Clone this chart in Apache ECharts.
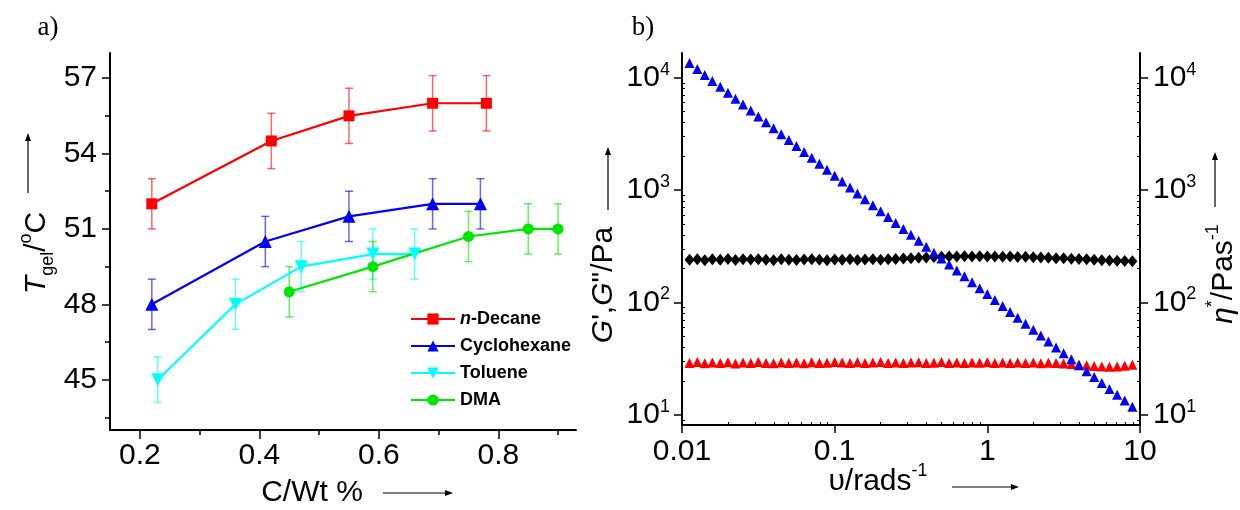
<!DOCTYPE html>
<html>
<head>
<meta charset="utf-8">
<script src="https://cdn.jsdelivr.net/npm/echarts@6/dist/echarts.min.js"></script>
<style>
  html, body { margin: 0; padding: 0; background: #fff; }
  #chart { width: 1240px; height: 510px; }
</style>
</head>
<body>
<div id="chart"></div>
<script>
// ---- a) Tgel vs concentration ----
var decaneX = [0.22, 0.42, 0.55, 0.69, 0.78];
var decaneY = [52, 54.5, 55.5, 56, 56];
var decaneErr = [1, 1.1, 1.1, 1.1, 1.1];

var cycloX = [0.22, 0.41, 0.55, 0.69, 0.77];
var cycloY = [48, 50.5, 51.5, 52, 52];
var cycloErr = [1, 1, 1, 1, 1];

var tolueneX = [0.23, 0.36, 0.47, 0.59, 0.66];
var tolueneY = [45, 48, 49.5, 50, 50];
var tolueneErr = [0.9, 1, 1, 1, 1];

var dmaX = [0.45, 0.59, 0.75, 0.85, 0.90];
var dmaY = [48.5, 49.5, 50.7, 51, 51];
var dmaErr = [1, 1, 1, 1, 1];

var tempTicks = [45, 48, 51, 54, 57];
var tempMinorTicks = [43.5, 46.5, 49.5, 52.5, 55.5];
var concTicks = [0.2, 0.4, 0.6, 0.8];
var concMinorTicks = [0.3, 0.5, 0.7, 0.9];

// ---- b) frequency sweep ----
var freq = [0.0112, 0.0126, 0.0141, 0.0158, 0.0178, 0.0200, 0.0224, 0.0251, 0.0282, 0.0316,
            0.0355, 0.0398, 0.0447, 0.0501, 0.0562, 0.0631, 0.0708, 0.0794, 0.0891,
            0.100, 0.112, 0.126, 0.141, 0.158, 0.178, 0.200, 0.224, 0.251, 0.282, 0.316,
            0.355, 0.398, 0.447, 0.501, 0.562, 0.631, 0.708, 0.794, 0.891,
            1.00, 1.12, 1.26, 1.41, 1.58, 1.78, 2.00, 2.24, 2.51, 2.82, 3.16,
            3.55, 3.98, 4.47, 5.01, 5.62, 6.31, 7.08, 7.94, 8.91];
var gPrime = [240, 243, 238, 242, 240, 244, 239, 242, 241, 243,
              240, 238, 242, 240, 239, 241, 243, 240, 238,
              241, 240, 242, 239, 241, 243, 240, 242, 244, 246, 248,
              250, 252, 254, 255, 256, 257, 258, 257, 258,
              256, 257, 255, 256, 254, 255, 253, 252, 250, 248, 247,
              245, 244, 242, 240, 238, 237, 235, 234, 233];
var gDouble = [29, 29.5, 28.8, 29.3, 29, 29.4, 28.7, 29.2, 29, 29.5,
               29, 28.8, 29.3, 29, 29.2, 28.8, 29.4, 29, 29.1,
               29.6, 29.2, 29, 29.4, 28.9, 29.2, 29.5, 29, 29.3, 28.9, 29.2,
               29.4, 29, 29.1, 29.5, 29, 29.2, 28.9, 29.3, 29.1,
               29.4, 29, 29.2, 28.9, 29.3, 29, 29.2, 28.8, 29.1, 28.9, 28.6,
               28.4, 28.1, 27.7, 27.2, 26.9, 26.8, 27.0, 27.4, 27.9];
var etaStar = [13490, 11950, 10580, 9374, 8303, 7354, 6514, 5770, 5110, 4527,
               4009, 3551, 3145, 2786, 2467, 2185, 1936, 1715, 1519,
               1345, 1191, 1055, 934.5, 827.7, 733.1, 649.4, 575.2, 509.5, 451.2, 399.7,
               354.0, 313.6, 277.7, 246.0, 217.9, 193.0, 170.9, 151.4, 134.1,
               118.8, 105.2, 93.2, 82.5, 73.1, 64.7, 57.3, 50.8, 45.0, 39.8, 35.3,
               31.3, 27.7, 24.5, 21.7, 19.2, 17.0, 15.1, 13.4, 11.8];
var freqTicks = [0.01, 0.1, 1, 10];
var freqTickLabels = ['0.01', '0.1', '1', '10'];
var modTicks = [10, 100, 1000, 10000];
var minorFactors = [2, 3, 4, 5, 6, 7, 8, 9];

var FONT = '"Liberation Sans", Arial, "DejaVu Sans", sans-serif';

var chart = echarts.init(document.getElementById('chart'));

function pairs(xs, ys) {
  return xs.map(function (x, i) { return [x, ys[i]]; });
}
function logPairs(xs, ys) {
  return xs.map(function (x, i) { return [Math.log10(x), Math.log10(ys[i])]; });
}
function logMinor(decades) {
  var out = [];
  decades.forEach(function (d) {
    minorFactors.forEach(function (k) { out.push(Math.log10(k * d)); });
  });
  return out;
}

function lineSeries(name, xs, ys, color, symbol, size) {
  return {
    name: name, type: 'line', xAxisIndex: 0, yAxisIndex: 0, z: 3,
    data: pairs(xs, ys),
    symbol: symbol, symbolSize: size,
    lineStyle: { color: color, width: 2.2 },
    itemStyle: { color: color, opacity: 1 }
  };
}

function errorSeries(xs, ys, errs, color) {
  return {
    type: 'custom', xAxisIndex: 0, yAxisIndex: 0, z: 2, silent: true,
    data: xs.map(function (x, i) { return [x, ys[i] - errs[i], ys[i] + errs[i]]; }),
    encode: { x: 0, y: [1, 2] },
    renderItem: function (params, api) {
      var lo = api.coord([api.value(0), api.value(1)]);
      var hi = api.coord([api.value(0), api.value(2)]);
      var w = 4;
      var st = { stroke: color, lineWidth: 1.5, opacity: 0.6 };
      return {
        type: 'group',
        children: [
          { type: 'line', shape: { x1: lo[0], y1: lo[1], x2: hi[0], y2: hi[1] }, style: st },
          { type: 'line', shape: { x1: lo[0] - w, y1: lo[1], x2: lo[0] + w, y2: lo[1] }, style: st },
          { type: 'line', shape: { x1: hi[0] - w, y1: hi[1], x2: hi[0] + w, y2: hi[1] }, style: st }
        ]
      };
    }
  };
}

function scatterSeries(name, ys, color, symbol, size) {
  return {
    name: name, type: 'scatter', xAxisIndex: 2, yAxisIndex: 2,
    data: logPairs(freq, ys),
    symbol: symbol, symbolSize: size,
    itemStyle: { color: color, opacity: 1 }
  };
}

function arrow(x1, y1, x2, y2) {
  var ang = Math.atan2(y2 - y1, x2 - x1);
  var L = 8, W = 3;
  var bx = x2 - L * Math.cos(ang), by = y2 - L * Math.sin(ang);
  var px = -Math.sin(ang) * W, py = Math.cos(ang) * W;
  return [
    { type: 'line', shape: { x1: x1, y1: y1, x2: bx, y2: by }, style: { stroke: '#000', lineWidth: 1.2 } },
    { type: 'polygon', shape: { points: [[x2, y2], [bx + px, by + py], [bx - px, by - py]] }, style: { fill: '#000' } }
  ];
}

var axisLineStyle = { show: true, onZero: false, lineStyle: { color: '#000', width: 2 } };
var hiddenLine = { show: false, onZero: false };
var labelStyle = { color: '#000', fontSize: 30, fontFamily: FONT };

var titleRich = {
  n: { fontSize: 30, fontFamily: FONT, color: '#000', lineHeight: 40 },
  i: { fontSize: 30, fontFamily: FONT, fontStyle: 'italic', color: '#000', lineHeight: 40 },
  sub: { fontSize: 18, fontFamily: FONT, color: '#000', lineHeight: 18, verticalAlign: 'bottom' },
  sup: { fontSize: 18, fontFamily: FONT, color: '#000', lineHeight: 18, verticalAlign: 'top' }
};

var supLabelRich = {
  b: { fontSize: 30, fontFamily: FONT, color: '#000', lineHeight: 34 },
  s: { fontSize: 18, fontFamily: FONT, color: '#000', lineHeight: 18, verticalAlign: 'top' }
};

var graphics = [
  { type: 'text', x: 48, y: 28, style: { text: 'a)', font: '27px "Liberation Serif", "Times New Roman", serif', fill: '#000', align: 'center', verticalAlign: 'middle' } },
  { type: 'text', x: 643, y: 28, style: { text: 'b)', font: '27px "Liberation Serif", "Times New Roman", serif', fill: '#000', align: 'center', verticalAlign: 'middle' } },
  { type: 'text', x: 37, y: 253, rotation: Math.PI / 2,
    style: { text: '{i|T}{sub|gel}{n|/}{sup|o}{n|C}', rich: titleRich, align: 'center', verticalAlign: 'middle' } },
  { type: 'text', x: 312, y: 493,
    style: { text: 'C/Wt %', font: '30px ' + FONT, fill: '#000', align: 'center', verticalAlign: 'middle' } },
  { type: 'text', x: 604, y: 285, rotation: Math.PI / 2,
    style: { text: '{i|G}{n|\',}{i|G}{n|"/Pa}', rich: titleRich, align: 'center', verticalAlign: 'middle' } },
  { type: 'text', x: 1224, y: 274, rotation: Math.PI / 2,
    style: { text: '{i|η}{sup|*}{n|/Pas}{sup|-1}', rich: titleRich, align: 'center', verticalAlign: 'middle' } },
  { type: 'text', x: 878, y: 482,
    style: { text: '{n|υ/rads}{sup|-1}', rich: titleRich, align: 'center', verticalAlign: 'middle' } }
]
  .concat(arrow(28, 193, 28, 133))
  .concat(arrow(383, 493, 453, 493))
  .concat(arrow(608, 210, 608, 147))
  .concat(arrow(1215, 207, 1215, 152))
  .concat(arrow(952, 487, 1019, 487));

var option = {
  backgroundColor: '#fff',
  animation: false,
  grid: [
    { left: 110, top: 53, width: 466, height: 377 },
    { left: 682, top: 53, width: 458, height: 372 }
  ],
  legend: {
    data: ['n-Decane', 'Cyclohexane', 'Toluene', 'DMA'],
    orient: 'vertical', left: 405, top: 305,
    itemWidth: 44, itemHeight: 14, itemGap: 9,
    formatter: function (name) {
      return name === 'n-Decane' ? '{it|n}{b|-Decane}' : '{b|' + name + '}';
    },
    textStyle: {
      color: '#000', fontSize: 18, fontWeight: 'bold', fontFamily: FONT, lineHeight: 14,
      rich: {
        it: { fontSize: 18, fontWeight: 'bold', fontStyle: 'italic', fontFamily: FONT, color: '#000' },
        b: { fontSize: 18, fontWeight: 'bold', fontFamily: FONT, color: '#000' }
      }
    }
  },
  xAxis: [
    { type: 'value', gridIndex: 0, position: 'bottom', min: 0.15, max: 0.93,
      axisLine: axisLineStyle, splitLine: { show: false },
      axisTick: { customValues: concTicks, length: 9, lineStyle: { color: '#000', width: 1.5 } },
      axisLabel: Object.assign({ customValues: concTicks, margin: 11 }, labelStyle) },
    { type: 'value', gridIndex: 0, position: 'bottom', offset: 0, min: 0.15, max: 0.93,
      axisLine: hiddenLine, splitLine: { show: false }, axisLabel: { show: false },
      axisTick: { customValues: concMinorTicks, length: 5, lineStyle: { color: '#000', width: 1.5 } } },
    { type: 'value', gridIndex: 1, position: 'bottom', min: -2, max: 1,
      axisLine: axisLineStyle, splitLine: { show: false },
      axisTick: { customValues: freqTicks.map(Math.log10), length: 8, lineStyle: { color: '#000', width: 1.5 } },
      axisLabel: Object.assign({
        customValues: freqTicks.map(Math.log10), margin: 12,
        formatter: function (v) {
          for (var i = 0; i < freqTicks.length; i++) {
            if (Math.abs(Math.log10(freqTicks[i]) - v) < 1e-6) return freqTickLabels[i];
          }
          return '';
        }
      }, labelStyle) },
    { type: 'value', gridIndex: 1, position: 'bottom', offset: 0, min: -2, max: 1,
      axisLine: hiddenLine, splitLine: { show: false }, axisLabel: { show: false },
      axisTick: { customValues: logMinor([0.01, 0.1, 1]), inside: true, length: 3, lineStyle: { color: '#000', width: 1 } } }
  ],
  yAxis: [
    { type: 'value', gridIndex: 0, position: 'left', min: 43, max: 58,
      axisLine: axisLineStyle, splitLine: { show: false },
      axisTick: { customValues: tempTicks, length: 8, lineStyle: { color: '#000', width: 1.5 } },
      axisLabel: Object.assign({ customValues: tempTicks, margin: 13 }, labelStyle) },
    { type: 'value', gridIndex: 0, position: 'left', offset: 0, min: 43, max: 58,
      axisLine: hiddenLine, splitLine: { show: false }, axisLabel: { show: false },
      axisTick: { customValues: tempMinorTicks, length: 5, lineStyle: { color: '#000', width: 1.5 } } },
    { type: 'value', gridIndex: 1, position: 'left', min: 0.91, max: 4.22,
      axisLine: axisLineStyle, splitLine: { show: false },
      axisTick: { customValues: modTicks.map(Math.log10), length: 8, lineStyle: { color: '#000', width: 1.5 } },
      axisLabel: { customValues: modTicks.map(Math.log10), margin: 12,
        formatter: function (v) { return '{b|10}{s|' + Math.round(v) + '}'; }, rich: supLabelRich } },
    { type: 'value', gridIndex: 1, position: 'left', offset: 0, min: 0.91, max: 4.22,
      axisLine: hiddenLine, splitLine: { show: false }, axisLabel: { show: false },
      axisTick: { customValues: logMinor([1, 10, 100, 1000, 10000]), inside: true, length: 3, lineStyle: { color: '#000', width: 1 } } },
    { type: 'value', gridIndex: 1, position: 'right', offset: 0, min: 0.91, max: 4.22,
      axisLine: axisLineStyle, splitLine: { show: false },
      axisTick: { customValues: modTicks.map(Math.log10), length: 8, lineStyle: { color: '#000', width: 1.5 } },
      axisLabel: { customValues: modTicks.map(Math.log10), margin: 13,
        formatter: function (v) { return '{b|10}{s|' + Math.round(v) + '}'; }, rich: supLabelRich } },
    { type: 'value', gridIndex: 1, position: 'right', offset: 0, min: 0.91, max: 4.22,
      axisLine: hiddenLine, splitLine: { show: false }, axisLabel: { show: false },
      axisTick: { customValues: logMinor([1, 10, 100, 1000, 10000]), inside: true, length: 3, lineStyle: { color: '#000', width: 1 } } }
  ],
  series: [
    errorSeries(decaneX, decaneY, decaneErr, '#ff0000'),
    errorSeries(cycloX, cycloY, cycloErr, '#0000ff'),
    errorSeries(tolueneX, tolueneY, tolueneErr, '#00ffff'),
    errorSeries(dmaX, dmaY, dmaErr, '#00e600'),
    lineSeries('n-Decane', decaneX, decaneY, '#ff0000', 'rect', 11),
    lineSeries('Cyclohexane', cycloX, cycloY, '#0000ff', 'triangle', 13),
    lineSeries('Toluene', tolueneX, tolueneY, '#00ffff', 'path://M0,0 L10,0 L5,9 Z', 13),
    lineSeries('DMA', dmaX, dmaY, '#00e600', 'circle', 11),
    scatterSeries("G'", gPrime, '#000000', 'diamond', [10, 12]),
    scatterSeries("G''", gDouble, '#ff0000', 'triangle', 10),
    scatterSeries('η*', etaStar, '#0000ff', 'triangle', 10)
  ],
  graphic: graphics
};

chart.setOption(option);
</script>
</body>
</html>
